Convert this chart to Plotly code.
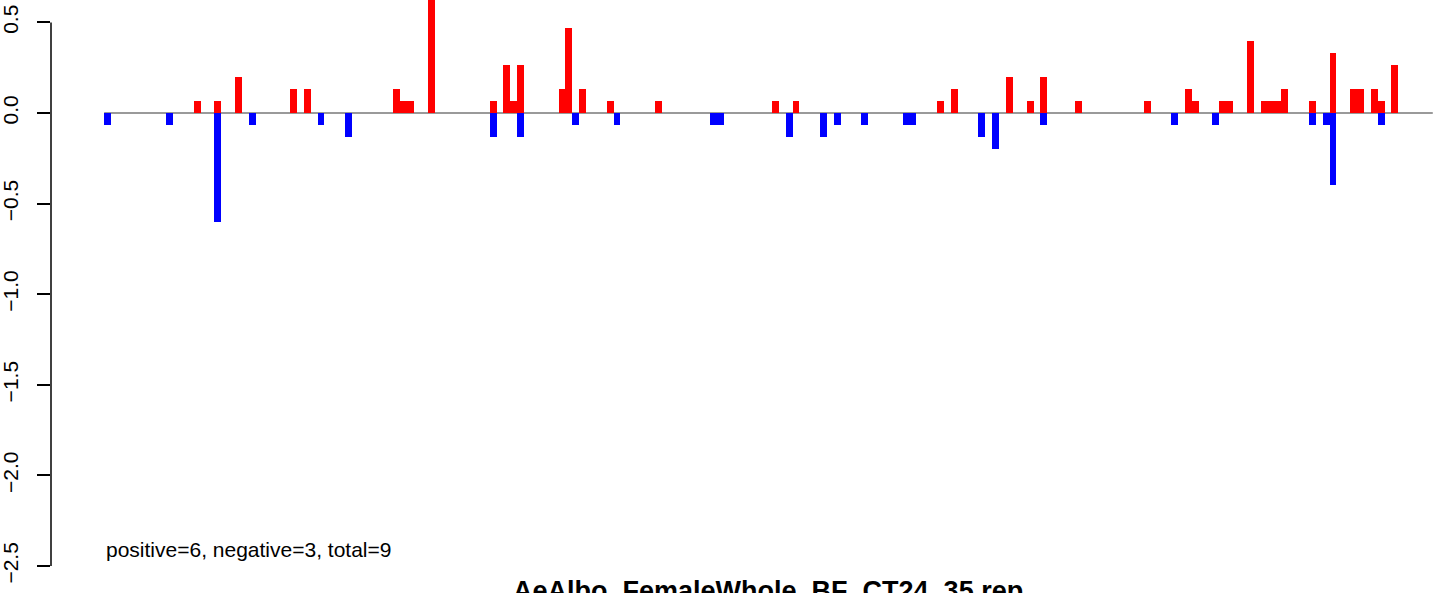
import plotly.graph_objects as go

# ---- data (bar index, value) ----
n_bars = 193
pos_idx = [13, 16, 19, 27, 29, 42, 43, 44, 47, 56, 58, 59, 60, 66, 67, 69, 73, 80,
           97, 100, 121, 123, 131, 134, 136, 141, 151, 157, 158, 162, 163, 166,
           168, 169, 170, 171, 175, 178, 181, 182, 184, 185, 187]
pos_val = [0.067, 0.067, 0.2, 0.133, 0.133, 0.133, 0.067, 0.067, 0.667, 0.067, 0.267,
           0.067, 0.267, 0.133, 0.467, 0.133, 0.067, 0.067,
           0.067, 0.067, 0.067, 0.133, 0.2, 0.067, 0.2, 0.067, 0.067, 0.133, 0.067,
           0.067, 0.067, 0.4,
           0.067, 0.067, 0.067, 0.133, 0.067, 0.333, 0.133, 0.133, 0.133, 0.067, 0.267]
neg_idx = [0, 9, 16, 21, 31, 35, 56, 60, 68, 74, 88, 89, 99, 104, 106, 110, 116, 117,
           127, 129, 136, 155, 161, 175, 177, 178, 185]
neg_val = [-0.067, -0.067, -0.6, -0.067, -0.067, -0.133, -0.133, -0.133, -0.067, -0.067,
           -0.067, -0.067, -0.133, -0.133, -0.067, -0.067, -0.067, -0.067,
           -0.133, -0.2, -0.067, -0.067, -0.067, -0.067, -0.067, -0.4, -0.067]
y_ticks = [-2.5, -2.0, -1.5, -1.0, -0.5, 0.0, 0.5]
y_tick_text = ["\u22122.5", "\u22122.0", "\u22121.5", "\u22121.0", "\u22120.5", "0.0", "0.5"]
summary_text = "positive=6, negative=3, total=9"
title_text = "AeAlbo_FemaleWhole_BF_CT24_35 rep"

FONT = "Liberation Sans, Arial, Helvetica, sans-serif"
PLOT_H = 566

fig = go.Figure()
fig.add_trace(go.Bar(x=[i + 0.5 for i in pos_idx], y=pos_val, width=1,
                     marker=dict(color="#ff0000", line=dict(width=0)), showlegend=False))
fig.add_trace(go.Bar(x=[i + 0.5 for i in neg_idx], y=neg_val, width=1,
                     marker=dict(color="#0000ff", line=dict(width=0)), showlegend=False))

# baseline at zero
fig.add_shape(type="line", xref="x", yref="y", x0=0, x1=n_bars, y0=0, y1=0,
              line=dict(color="#9a9a9a", width=2), layer="below")
# y axis line (only over the tick span)
fig.add_shape(type="line", xref="paper", yref="y", x0=0, x1=0, y0=-2.5, y1=0.5,
              line=dict(color="black", width=1.5))

fig.add_annotation(text=summary_text, xref="x", yref="paper", x=0, y=1 - 549 / PLOT_H,
                   xanchor="left", yanchor="middle", showarrow=False,
                   font=dict(family=FONT, size=21, color="black"))
fig.add_annotation(text="<b>" + title_text + "</b>", xref="paper", yref="paper",
                   x=(768 - 51) / (1444 - 51), y=-(8 / PLOT_H), xanchor="center",
                   yanchor="top", showarrow=False,
                   font=dict(family=FONT, size=27, color="black"))

fig.update_layout(
    width=1444, height=593,
    margin=dict(l=51, r=0, t=0, b=593 - PLOT_H, pad=0, autoexpand=False),
    paper_bgcolor="white", plot_bgcolor="white",
    barmode="overlay", bargap=0,
    xaxis=dict(range=[-7.72, 194.63], visible=False, fixedrange=True, automargin=False),
    yaxis=dict(range=[-2.5, 0.6236], tickvals=y_ticks, ticktext=y_tick_text,
               ticks="outside", ticklen=13, tickwidth=1.5, tickcolor="black",
               showline=False, showgrid=False, zeroline=False, tickangle=-90,
               automargin=False, ticklabelstandoff=11, fixedrange=True,
               tickfont=dict(family=FONT, size=21, color="black")),
    font=dict(family=FONT),
)

fig.write_html("out.html", config={"displayModeBar": False},
               post_script="document.body.style.margin='0';document.body.style.overflow='hidden';")
